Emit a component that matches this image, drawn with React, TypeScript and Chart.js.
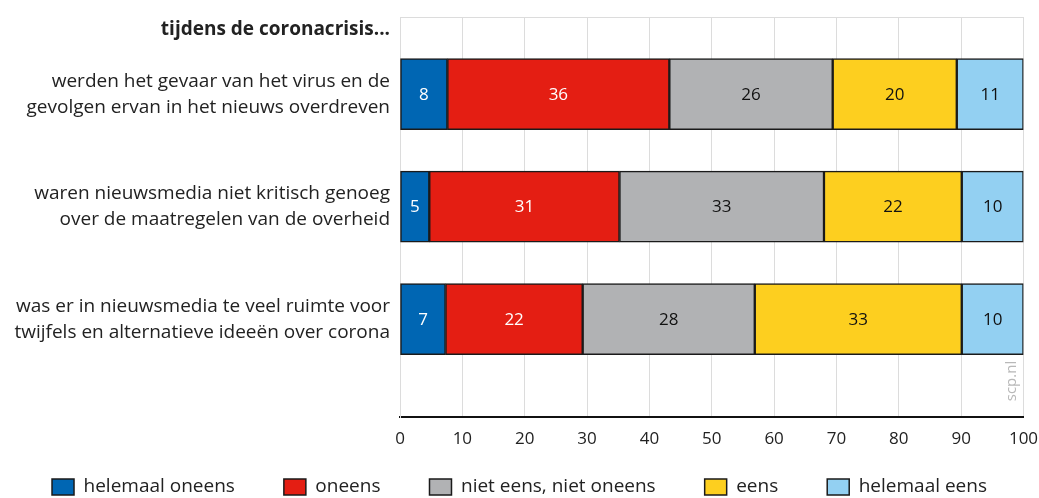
import React, { useEffect, useRef } from "react";
import { Chart, registerables } from "chart.js";

Chart.register(...registerables);

const header = "tijdens de coronacrisis...";
const categories: string[][] = [
  ["werden het gevaar van het virus en de", "gevolgen ervan in het nieuws overdreven"],
  ["waren nieuwsmedia niet kritisch genoeg", "over de maatregelen van de overheid"],
  ["was er in nieuwsmedia te veel ruimte voor", "twijfels en alternatieve ideeën over corona"],
];
const rowIndex = [1, 2, 3];
const headerPos = 0.43;

const seriesNames = ["helemaal oneens", "oneens", "niet eens, niet oneens", "eens", "helemaal eens"];
const helemaalOneens = [7.6, 4.7, 7.3];
const oneens = [35.6, 30.5, 22.0];
const nietEensNietOneens = [26.2, 32.8, 27.6];
const eens = [19.9, 22.1, 33.2];
const helemaalEens = [10.7, 9.9, 9.9];
const labelValues = [
  [8, 5, 7],
  [36, 31, 22],
  [26, 33, 28],
  [20, 22, 33],
  [11, 10, 10],
];
const xTicks = [0, 10, 20, 30, 40, 50, 60, 70, 80, 90, 100];

const colors = ["#0066b3", "#e41e13", "#b1b2b4", "#fdcf1f", "#93d0f2"];
const labelColors = ["#ffffff", "#ffffff", "#111111", "#111111", "#111111"];
const FONT = "'Open Sans', 'Noto Sans', sans-serif";
const LEGEND_PAD = 49;
const LEGEND_CENTER_Y = 487;

const valueLabels = {
  id: "valueLabels",
  afterDatasetsDraw(chart: any) {
    const ctx = chart.ctx;
    ctx.save();
    ctx.font = `17px ${FONT}`;
    ctx.textAlign = "center";
    ctx.textBaseline = "middle";
    chart.data.datasets.forEach((ds: any, di: number) => {
      const meta = chart.getDatasetMeta(di);
      meta.data.forEach((el: any, i: number) => {
        const { x, y, base } = el.getProps(["x", "y", "base"], true);
        ctx.fillStyle = labelColors[di];
        ctx.fillText(String(labelValues[di][i]), (x + base) / 2, y + 1);
      });
    });
    ctx.restore();
  },
};

const watermark = {
  id: "watermark",
  afterDraw(chart: any) {
    const { ctx, chartArea } = chart;
    ctx.save();
    ctx.translate(chartArea.right - 12, chartArea.bottom - 36);
    ctx.rotate(-Math.PI / 2);
    ctx.font = `15px ${FONT}`;
    ctx.fillStyle = "#b8b8b8";
    ctx.textAlign = "center";
    ctx.textBaseline = "middle";
    ctx.fillText("scp.nl", 0, 0);
    ctx.restore();
  },
};

const legendShift = {
  id: "legendShift",
  afterLayout(chart: any) {
    const lg = chart.legend;
    if (!lg) return;
    const itemH = 19;
    const newTop = LEGEND_CENTER_Y - itemH / 2 - LEGEND_PAD;
    const d = newTop - lg.top;
    lg.top += d;
    lg.bottom += d;
    if (lg.legendHitBoxes) lg.legendHitBoxes.forEach((h: any) => (h.top += d));
  },
};

export default function App() {
  const ref = useRef<HTMLCanvasElement>(null);
  useEffect(() => {
    if (!ref.current) return;
    const series = [helemaalOneens, oneens, nietEensNietOneens, eens, helemaalEens];
    const chart = new Chart(ref.current, {
      type: "bar",
      data: {
        datasets: series.map((vals, di) => ({
          label: seriesNames[di],
          data: vals.map((v, i) => ({ x: v, y: rowIndex[i] })),
          backgroundColor: colors[di],
          borderColor: "#1a1a1a",
          borderWidth: 1.5,
          borderSkipped: false,
          barThickness: 71,
        })),
      },
      options: {
        indexAxis: "y",
        animation: false,
        responsive: false,
        maintainAspectRatio: false,
        layout: { padding: { left: 0, right: 0, top: 17, bottom: -33 } },
        plugins: {
          tooltip: { enabled: false },
          legend: {
            position: "bottom",
            labels: {
              font: { family: FONT, size: 19 },
              color: "#222",
              boxWidth: 22,
              boxHeight: 16,
              padding: LEGEND_PAD,
            },
          },
        },
        scales: {
          x: {
            type: "linear",
            stacked: true,
            min: 0,
            max: 100,
            afterBuildTicks: (s: any) => {
              s.ticks = xTicks.map((v) => ({ value: v }));
            },
            afterFit: (s: any) => {
              s.height = 36;
              s.paddingLeft = 0;
              s.paddingRight = 15.5;
            },
            grid: { color: "#dcdcdc", lineWidth: 1, drawTicks: false },
            border: { display: true, color: "#111", width: 2 },
            ticks: {
              font: { family: FONT, size: 17 },
              color: "#222",
              padding: 12,
              maxRotation: 0,
            },
          },
          y: {
            type: "linear",
            stacked: true,
            reverse: true,
            offset: false,
            min: 0.314,
            max: 3.87,
            afterBuildTicks: (s: any) => {
              s.ticks = [{ value: headerPos }, ...rowIndex.map((v) => ({ value: v }))];
            },
            afterFit: (s: any) => {
              s.width = 400;
              s.paddingTop = 0;
              s.paddingBottom = 0;
            },
            grid: { display: false, drawTicks: false },
            border: { display: true, color: "#dcdcdc", width: 1 },
            ticks: {
              padding: 10,
              autoSkip: false,
              color: "#222",
              font: (c: any) =>
                c.tick && c.tick.value === headerPos
                  ? { family: FONT, size: 19, weight: "bold", lineHeight: 1.37 }
                  : { family: FONT, size: 19, lineHeight: 1.37 },
              callback: (v: any) => {
                if (v === headerPos) return header;
                const idx = rowIndex.indexOf(v);
                return idx >= 0 ? categories[idx] : "";
              },
            },
          },
          x2: {
            type: "linear",
            position: "top",
            min: 0,
            max: 100,
            afterFit: (s: any) => {
              s.paddingLeft = 0;
              s.paddingRight = 0;
            },
            grid: { display: false, drawTicks: false },
            ticks: { display: false },
            border: { display: true, color: "#dcdcdc", width: 1 },
          },
        },
      },
      plugins: [valueLabels, watermark, legendShift],
    } as any);
    return () => chart.destroy();
  }, []);
  return (
    <div style={{ position: "absolute", left: 0, top: 0, width: 1039, height: 498, background: "#fff" }}>
      <canvas ref={ref} width={1039} height={498} style={{ width: 1039, height: 498 }} />
    </div>
  );
}
